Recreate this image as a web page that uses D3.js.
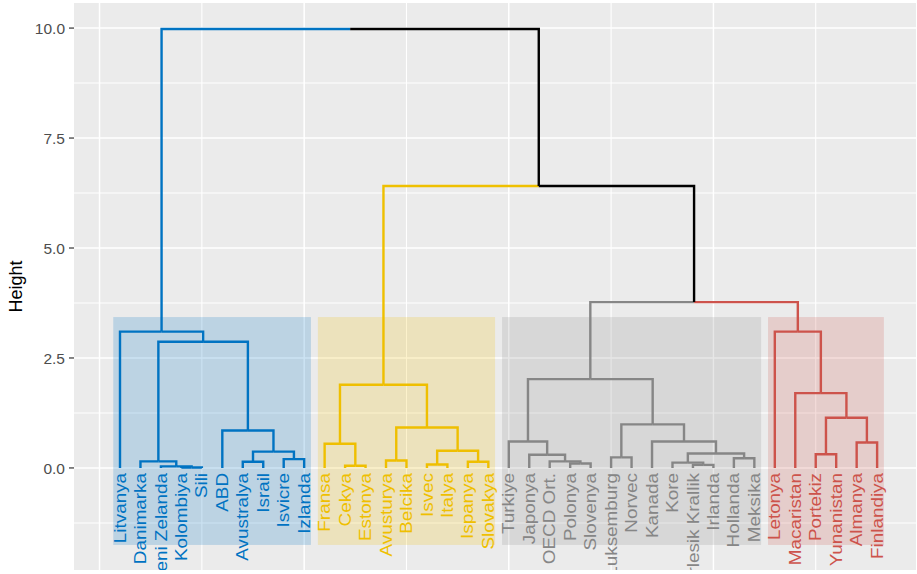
<!DOCTYPE html>
<html><head><meta charset="utf-8">
<script src="https://cdn.jsdelivr.net/npm/d3@7"></script>
<style>body{margin:0;background:#fff}</style>
</head><body>
<svg id="c" width="917" height="574"></svg>
<script>
// ---- data ----
const labels = ["Litvanya","Danimarka","Yeni Zelanda","Kolombiya","Sili","ABD","Avustralya","Israil","Isvicre","Izlanda",
  "Fransa","Cekya","Estonya","Avusturya","Belcika","Isvec","Italya","Ispanya","Slovakya",
  "Turkiye","Japonya","OECD Ort.","Polonya","Slovenya","Luksemburg","Norvec","Kanada","Kore","Birlesik Krallik","Irlanda","Hollanda","Meksika",
  "Letonya","Macaristan","Portekiz","Yunanistan","Almanya","Finlandiya"];
const leafCluster = [0,0,0,0,0,0,0,0,0,0, 1,1,1,1,1,1,1,1,1, 2,2,2,2,2,2,2,2,2,2,2,2,2, 3,3,3,3,3,3];
const clusterColors = ["#0073C2","#EFC000","#868686","#CD534C"];
// hclust-style merges: negative = leaf (1-based), positive = earlier merge (1-based)
const merges = [
  [-4,-5],[-3,1],[-2,2],[-7,-8],[-9,-10],[4,5],[-6,6],[3,7],[-1,8],
  [-12,-13],[-11,10],[-14,-15],[-16,-17],[-18,-19],[13,14],[12,15],[11,16],
  [-23,-24],[-22,18],[-21,19],[-20,20],[-25,-26],[-29,-30],[-28,23],[-31,-32],[24,25],[-27,26],[22,27],[21,28],
  [-35,-36],[-37,-38],[30,31],[-34,32],[-33,33],
  [29,34],[17,35],[9,36]
];
const mergeHeights = [
  0.01,0.035,0.15,0.14,0.2,0.37,0.85,2.87,3.10,
  0.05,0.55,0.17,0.08,0.14,0.39,0.92,1.89,
  0.10,0.15,0.30,0.60,0.24,0.07,0.12,0.22,0.33,0.60,0.99,2.02,
  0.31,0.58,1.14,1.70,3.10,
  3.77,6.41,9.98
];
const yTicks = [0, 2.5, 5, 7.5, 10];
const yMinor = [-1.25, 1.25, 3.75, 6.25, 8.75];
const xMajor = [0, 10, 20, 30];
const xMinor = [5, 15, 25, 35];
const rectTop = 3.43, rectBottom = -1.75;
const yTitle = "Height";

// ---- layout ----
const P = {l:74, r:916, t:3, b:570};
const x = d3.scaleLinear().domain([-1.248, 39.9]).range([P.l, P.r]);
const y = d3.scaleLinear().domain([-2.32, 10.57]).range([P.b, P.t]);
const svg = d3.select("#c");

svg.append("defs").append("clipPath").attr("id","pc")
  .append("rect").attr("x",P.l).attr("y",P.t).attr("width",P.r-P.l).attr("height",P.b-P.t);

svg.append("rect").attr("x",P.l).attr("y",P.t).attr("width",P.r-P.l).attr("height",P.b-P.t).attr("fill","#EBEBEB");
const g = svg.append("g").attr("clip-path","url(#pc)");

// grid
g.selectAll(".ymin").data(yMinor).join("line").attr("x1",P.l).attr("x2",P.r)
  .attr("y1",d=>y(d)).attr("y2",d=>y(d)).attr("stroke","#fff").attr("stroke-width",1.1);
g.selectAll(".xmin").data(xMinor).join("line").attr("y1",P.t).attr("y2",P.b)
  .attr("x1",d=>x(d)).attr("x2",d=>x(d)).attr("stroke","#fff").attr("stroke-width",1.1);
g.selectAll(".ymaj").data(yTicks).join("line").attr("x1",P.l).attr("x2",P.r)
  .attr("y1",d=>y(d)).attr("y2",d=>y(d)).attr("stroke","#fff").attr("stroke-width",1.5);
g.selectAll(".xmaj").data(xMajor).join("line").attr("y1",P.t).attr("y2",P.b)
  .attr("x1",d=>x(d)).attr("x2",d=>x(d)).attr("stroke","#fff").attr("stroke-width",1.5);

// build tree
const leaves = labels.map((name,i)=>({name, pos:i+1, h:0, cl:leafCluster[i]}));
const nodes = [];
const getNode = id => id < 0 ? leaves[-id-1] : nodes[id-1];
merges.forEach((m,k)=>{
  const a = getNode(m[0]), b = getNode(m[1]);
  nodes.push({pos:(a.pos+b.pos)/2, h:mergeHeights[k], cl:(a.cl===b.cl ? a.cl : -1), kids:[a,b]});
});
const segs = [];
nodes.forEach(n=>n.kids.forEach(c=>segs.push({n,c})));
const colorOf = cl => cl < 0 ? "#000000" : clusterColors[cl];

// labels
g.selectAll(".lab").data(leaves).join("text")
  .attr("transform",d=>`translate(${x(d.pos)},${y(0)+5}) rotate(-90) scale(1.18,1)`)
  .attr("text-anchor","end").attr("dy","0.35em")
  .attr("font-family","Liberation Sans, Arial, sans-serif").attr("font-size",16)
  .attr("fill",d=>colorOf(d.cl)).text(d=>d.name);

// dendrogram segments
g.selectAll(".seg").data(segs).join("path")
  .attr("d",d=>`M${x(d.n.pos)},${y(d.n.h)}H${x(d.c.pos)}V${y(d.c.h)}`)
  .attr("fill","none").attr("stroke",d=>colorOf(d.c.cl)).attr("stroke-width",2.4);

// cluster rectangles
const rects = clusterColors.map((col,ci)=>{
  const ps = leaves.filter(l=>l.cl===ci).map(l=>l.pos);
  return {ci, lo:d3.min(ps)-0.33, hi:d3.max(ps)+0.33};
});
g.selectAll(".cr").data(rects).join("rect")
  .attr("x",d=>x(d.lo)).attr("width",d=>x(d.hi)-x(d.lo))
  .attr("y",y(rectTop)).attr("height",y(rectBottom)-y(rectTop))
  .attr("fill",d=>clusterColors[d.ci]).attr("fill-opacity",0.2);

// y axis
const ax = svg.append("g");
ax.selectAll(".tk").data(yTicks).join("line").attr("x1",P.l-5).attr("x2",P.l)
  .attr("y1",d=>y(d)).attr("y2",d=>y(d)).attr("stroke","#333").attr("stroke-width",1.2);
ax.selectAll(".tl").data(yTicks).join("text").attr("x",P.l-9).attr("y",d=>y(d)).attr("dy","0.36em")
  .attr("text-anchor","end").attr("font-family","Liberation Sans, Arial, sans-serif").attr("font-size",15.5)
  .attr("fill","#4D4D4D").text(d=>d3.format(".1f")(d));
svg.append("text").attr("transform",`translate(22,${(P.t+P.b)/2}) rotate(-90)`)
  .attr("text-anchor","middle").attr("font-family","Liberation Sans, Arial, sans-serif").attr("font-size",18)
  .attr("fill","#000").text(yTitle);
</script>
</body></html>
